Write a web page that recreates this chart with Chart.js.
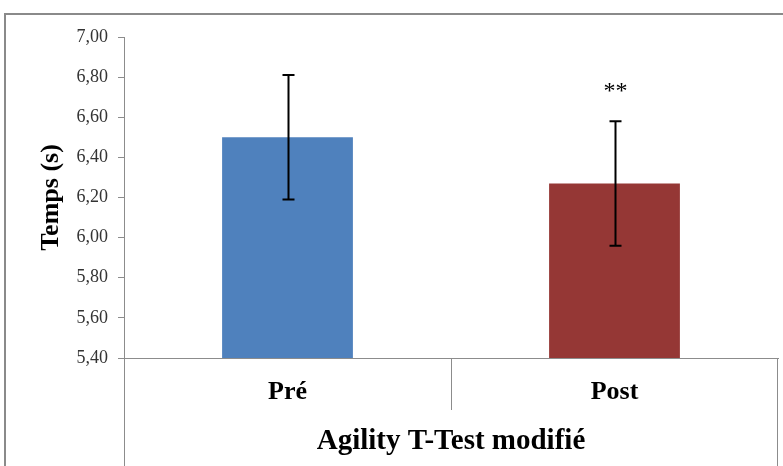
<!DOCTYPE html>
<html>
<head>
<meta charset="utf-8">
<script src="https://cdn.jsdelivr.net/npm/chart.js@4.4.1/dist/chart.umd.min.js"></script>
<style>
html,body{margin:0;padding:0;background:#fff;}
#wrap{width:783px;height:466px;position:relative;}
</style>
</head>
<body>
<div id="wrap"><canvas id="c" width="783" height="466"></canvas></div>
<script>
const categories = ['Pré', 'Post'];
const means = [6.50, 6.27];
const sdErrors = [0.31, 0.31];
const significance = ['', '**'];
const barColors = ['#4F81BD', '#953735'];
const yMin = 5.4, yMax = 7.0, yStep = 0.2;
const yTitle = 'Temps (s)';
const xTitle = 'Agility T-Test modifié';

const serif = "'Liberation Serif', 'Times New Roman', serif";
const axisGray = '#8c8c8c';

const framePlugin = {
  id: 'frame',
  beforeDraw(chart) {
    const ctx = chart.ctx;
    ctx.save();
    ctx.fillStyle = '#fff';
    ctx.fillRect(0, 0, chart.width, chart.height);
    ctx.strokeStyle = '#8a8a8a';
    ctx.lineWidth = 2;
    ctx.beginPath();
    ctx.moveTo(5, chart.height);
    ctx.lineTo(5, 14);
    ctx.lineTo(chart.width, 14);
    ctx.stroke();
    ctx.restore();
  }
};

const categoryBoxPlugin = {
  id: 'catBox',
  afterDraw(chart) {
    const ctx = chart.ctx;
    const xs = chart.scales.x;
    const area = chart.chartArea;
    const p0 = xs.getPixelForValue(0), p1 = xs.getPixelForValue(1);
    const mid = (p0 + p1) / 2;
    ctx.save();
    ctx.strokeStyle = axisGray;
    ctx.lineWidth = 1;
    ctx.beginPath();
    ctx.moveTo(Math.round(area.left) + 0.5, area.top);
    ctx.lineTo(Math.round(area.left) + 0.5, chart.height);
    ctx.moveTo(Math.round(area.right) - 0.5, area.bottom);
    ctx.lineTo(Math.round(area.right) - 0.5, chart.height);
    ctx.moveTo(Math.round(mid) + 0.5, area.bottom);
    ctx.lineTo(Math.round(mid) + 0.5, area.bottom + 52);
    ctx.stroke();
    ctx.restore();
  }
};

const errorBarPlugin = {
  id: 'errBars',
  afterDatasetsDraw(chart) {
    const ctx = chart.ctx;
    const ys = chart.scales.y;
    const meta = chart.getDatasetMeta(0);
    ctx.save();
    meta.data.forEach((bar, i) => {
      const x = Math.round(bar.x) + 0.5;
      const top = ys.getPixelForValue(means[i] + sdErrors[i]);
      const bot = ys.getPixelForValue(means[i] - sdErrors[i]);
      ctx.strokeStyle = '#000';
      ctx.lineWidth = 2;
      ctx.beginPath();
      ctx.moveTo(x, top); ctx.lineTo(x, bot);
      ctx.moveTo(x - 6, top); ctx.lineTo(x + 6, top);
      ctx.moveTo(x - 6, bot); ctx.lineTo(x + 6, bot);
      ctx.stroke();
      if (significance[i]) {
        ctx.fillStyle = '#000';
        ctx.font = "24px " + serif;
        ctx.textAlign = 'center';
        ctx.textBaseline = 'middle';
        ctx.fillText(significance[i], x, top - 30);
      }
    });
    ctx.restore();
  }
};

new Chart(document.getElementById('c'), {
  type: 'bar',
  data: {
    labels: categories,
    datasets: [{
      data: means,
      backgroundColor: barColors,
      borderWidth: 0,
      categoryPercentage: 1.0,
      barPercentage: 0.4
    }]
  },
  options: {
    responsive: false,
    animation: false,
    devicePixelRatio: 1,
    layout: { padding: { left: 0, top: 37, right: 5, bottom: 0 } },
    plugins: { legend: { display: false }, tooltip: { enabled: false } },
    scales: {
      x: {
        afterFit(s) { s.height = 108; },
        border: { display: true, color: axisGray, width: 1 },
        grid: { display: false, drawTicks: false },
        ticks: {
          padding: 19,
          color: '#000',
          font: { family: serif, size: 26, weight: 'bold' }
        },
        title: {
          display: true,
          text: xTitle,
          color: '#000',
          font: { family: serif, size: 29, weight: 'bold' },
          padding: { top: 0, bottom: 7 }
        }
      },
      y: {
        min: yMin,
        max: yMax,
        afterFit(s) { s.width = 124; },
        border: { display: true, color: axisGray, width: 1 },
        grid: { drawOnChartArea: false, drawTicks: true, tickLength: 6, color: axisGray },
        ticks: {
          stepSize: yStep,
          padding: 10,
          color: '#333333',
          font: { family: serif, size: 18 },
          callback: v => v.toFixed(2).replace('.', ',')
        },
        title: {
          display: true,
          text: yTitle,
          color: '#000',
          font: { family: serif, size: 26, weight: 'bold' },
          padding: { top: 36, bottom: 0 }
        }
      }
    }
  },
  plugins: [framePlugin, categoryBoxPlugin, errorBarPlugin]
});
</script>
</body>
</html>
